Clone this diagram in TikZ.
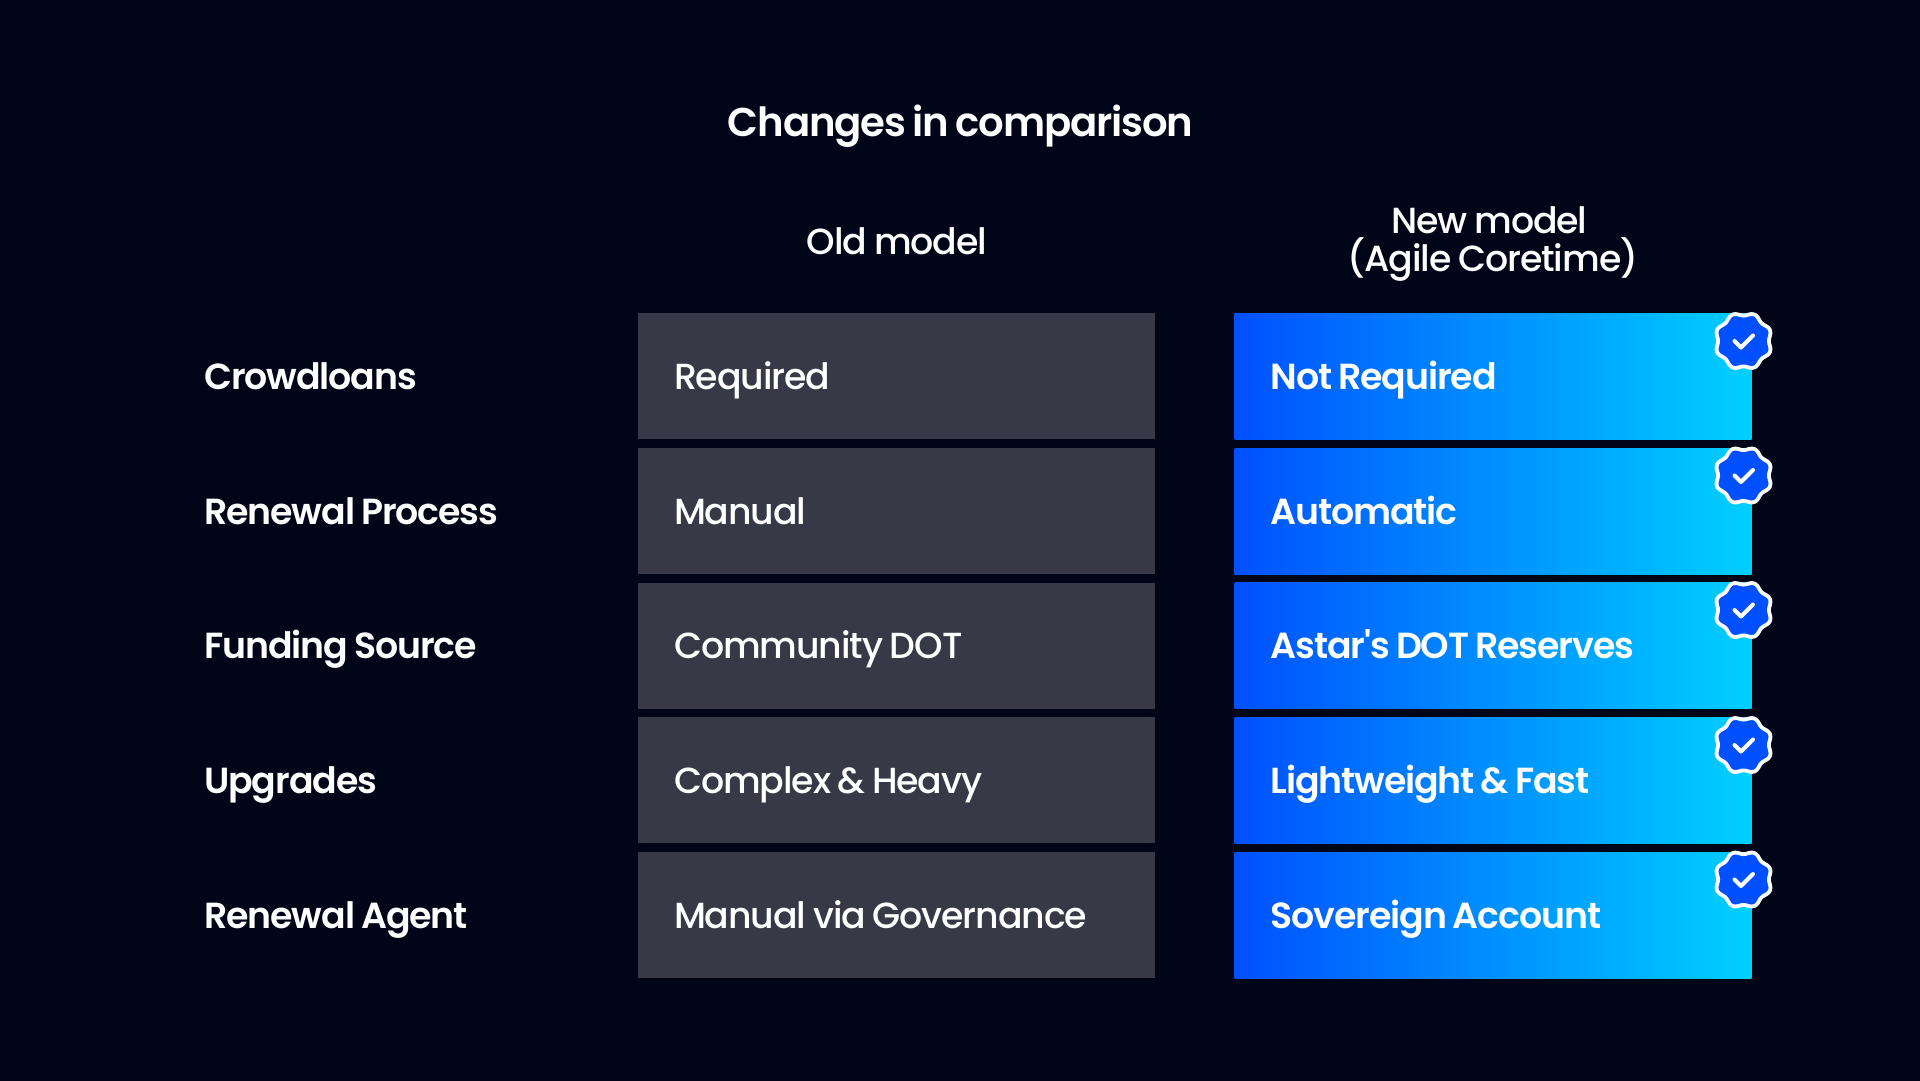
\documentclass[tikz,border=0pt]{standalone}
\usepackage{fontspec}
\newfontfamily\semifont{Poppins SemiBold}[LetterSpace=-3, WordSpace=0.8]
\newfontfamily\medfont{Poppins Medium}[LetterSpace=-3, WordSpace=0.8]

\definecolor{bgdark}{HTML}{010518}
\definecolor{oldgrey}{HTML}{373A46}
\definecolor{newblue}{HTML}{0050FF}
\definecolor{newcyan}{HTML}{00D0FF}

\tikzset{
    titletext/.style = {text = white, font = \fontsize{40.2}{44}\selectfont\semifont},
    headtext/.style = {text = white, align = flush center, font = \fontsize{36.3}{38}\selectfont\medfont},
    rowtext/.style = {text = white, anchor = west, inner xsep = 0pt, text height = 31pt, text depth = 5pt, font = \fontsize{36.3}{38}\selectfont\semifont},
    oldbox/.style = {fill = oldgrey, text = white, minimum width = 517pt, minimum height = 126pt, inner xsep = 36pt, text width = 445pt, align = flush left, text height = 31pt, text depth = 5pt, font = \fontsize{36.3}{38}\selectfont\medfont},
    newbox/.style = {left color = newblue, right color = newcyan, text = white, minimum width = 517pt, minimum height = 126pt, inner xsep = 36pt, text width = 445pt, align = flush left, text height = 31pt, text depth = 5pt, font = \fontsize{36.3}{38}\selectfont\semifont},
    badge/.pic = {
        \draw[white, line width = 3.8pt, fill = newblue] plot[domain = 0:360, samples = 145, smooth] ({cos(\x + 22.5) * (27 + 1.6 * cos(8 * \x))}, {sin(\x + 22.5) * (27 + 1.6 * cos(8 * \x))}) -- cycle;
        \draw[white, line width = 4pt, line cap = round, line join = round] (-9,0) -- (-2.5,6.5) -- (9.5,-5.5);
    }
}

\begin{document}
\begin{tikzpicture}[x = 1pt, y = -1pt]

\useasboundingbox (0,0) rectangle (1920,1080);
\fill[bgdark] (-3,-3) rectangle (1923,1083);

\node[titletext] (title) at (960.5,126.5) {Changes in comparison};
\node[headtext] (oldhead) at (897,241) {Old model};
\node[headtext] (newhead) at (1493,244) {\hspace*{-7pt}New model\\(Agile Coretime)};

\node[rowtext] (crowdloans) at (204,376) {Crowdloans};
\node[rowtext] (renewal) at (204,511) {Renewal Process};
\node[rowtext] (funding) at (204,645.5) {Funding Source};
\node[rowtext] (upgrades) at (204,780) {Upgrades};
\node[rowtext] (agent) at (204,915) {Renewal Agent};

\node[oldbox] (old1) at (896.5,376) {Required};
\node[oldbox] (old2) at (896.5,511) {Manual};
\node[oldbox] (old3) at (896.5,645.5) {Community DOT};
\node[oldbox] (old4) at (896.5,780) {Complex \& Heavy};
\node[oldbox] (old5) at (896.5,915) {Manual via Governance};

\node[newbox] (new1) at (1493,376) {Not Required};
\node[newbox] (new2) at (1493,511) {Automatic};
\node[newbox] (new3) at (1493,645.5) {Astar's DOT Reserves};
\node[newbox] (new4) at (1493,780) {Lightweight \& Fast};
\node[newbox] (new5) at (1493,915) {Sovereign Account};

\pic at (1743.5,341) {badge};
\pic at (1743.5,475.5) {badge};
\pic at (1743.5,610) {badge};
\pic at (1743.5,745) {badge};
\pic at (1743.5,879.5) {badge};

\end{tikzpicture}
\end{document}
